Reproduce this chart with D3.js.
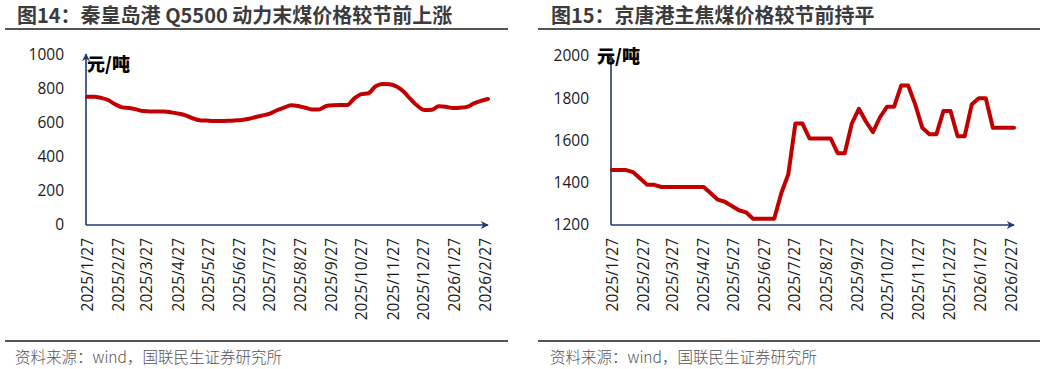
<!DOCTYPE html>
<html>
<head>
<meta charset="utf-8">
<script src="https://cdn.jsdelivr.net/npm/d3@7"></script>
<style>
  body { margin: 0; background: #fff; }
  svg { display: block; }
  .tick text { font-family: "Open Sans", "Noto Sans", sans-serif; fill: #1a1a1a; }
</style>
</head>
<body>
<div id="chart"></div>
<script>
'use strict';

// weekly observations, first Monday 2025/1/27 up to 2026/3/2
const weeks = d3.timeMonday.range(new Date(2025, 0, 27), new Date(2026, 2, 3));

// 秦皇岛港 Q5500 动力末煤 (元/吨)
const qhdPrice = [
  755, 755, 748, 735, 710, 692, 688, 680, 670, 668,
  668, 668, 662, 655, 645, 628, 616, 614, 612, 612,
  613, 615, 618, 625, 635, 645, 655, 675, 690, 704,
  700, 690, 680, 680, 700, 705, 706, 706, 745, 770,
  775, 815, 830, 828, 815, 785, 740, 700, 676, 678,
  698, 695, 688, 690, 695, 715, 730, 741
];

// 京唐港主焦煤 (元/吨)
const jtPrice = [
  1460, 1460, 1460, 1450, 1420, 1390, 1390, 1380, 1380, 1380,
  1380, 1380, 1380, 1380, 1350, 1320, 1310, 1290, 1270, 1260,
  1230, 1230, 1230, 1230, 1350, 1440, 1680, 1680, 1610, 1610,
  1610, 1610, 1540, 1540, 1680, 1750, 1690, 1640, 1710, 1760,
  1760, 1860, 1860, 1770, 1660, 1630, 1630, 1740, 1740, 1620,
  1620, 1770, 1800, 1800, 1660, 1660, 1660, 1660
];

const tickLabels = [
  '2025/1/27', '2025/2/27', '2025/3/27', '2025/4/27', '2025/5/27', '2025/6/27', '2025/7/27',
  '2025/8/27', '2025/9/27', '2025/10/27', '2025/11/27', '2025/12/27', '2026/1/27', '2026/2/27'
];

const titles = ['图14：秦皇岛港 Q5500 动力末煤价格较节前上涨', '图15：京唐港主焦煤价格较节前持平'];
const yDomains = [[0, 1000], [1200, 2000]];
const yTicks = [[0, 200, 400, 600, 800, 1000], [1200, 1400, 1600, 1800, 2000]];
const unit = '元/吨';
const source = '资料来源：wind，国联民生证券研究所';

const W = 1049, H = 369;
const axisColor = '#1f3a72';
const lineColor = '#c00000';
const parseDate = d3.timeParse('%Y/%m/%d');
const tickDates = tickLabels.map(parseDate);

const svg = d3.select('#chart').append('svg')
  .attr('width', W)
  .attr('height', H);

const defs = svg.append('defs');
defs.append('marker')
  .attr('id', 'arrow')
  .attr('viewBox', '0 0 10 10')
  .attr('refX', 9).attr('refY', 5)
  .attr('markerWidth', 8).attr('markerHeight', 8)
  .attr('markerUnits', 'userSpaceOnUse')
  .attr('orient', 'auto')
  .append('path')
  .attr('d', 'M0,0 L10,5 L0,10 L3,5 Z')
  .attr('fill', axisColor);

function drawPanel(cfg) {
  const g = svg.append('g');

  // title + rule
  g.append('text')
    .attr('x', cfg.titleX).attr('y', 23)
    .attr('font-family', '"Noto Sans CJK SC", sans-serif')
    .attr('font-weight', 'bold')
    .attr('font-size', 20)
    .attr('fill', '#3b3b3b')
    .text(cfg.title);
  g.append('line')
    .attr('x1', cfg.ruleX[0]).attr('x2', cfg.ruleX[1])
    .attr('y1', 29).attr('y2', 29)
    .attr('stroke', '#555').attr('stroke-width', 2);

  // source rule + text
  g.append('line')
    .attr('x1', cfg.ruleX[0]).attr('x2', cfg.ruleX[1])
    .attr('y1', 341).attr('y2', 341)
    .attr('stroke', '#555').attr('stroke-width', 2);
  g.append('text')
    .attr('x', cfg.sourceX).attr('y', 363)
    .attr('font-family', '"Noto Sans CJK SC", sans-serif')
    .attr('font-size', 15.5)
    .attr('font-weight', 300)
    .attr('fill', '#555')
    .text(source);

  const x = d3.scaleTime()
    .domain([tickDates[0], tickDates[tickDates.length - 1]])
    .range(cfg.xRange);
  const y = d3.scaleLinear().domain(cfg.yDomain).range([225, cfg.yTop]);

  // y labels
  g.append('g')
    .attr('transform', `translate(${cfg.xRange[0] - 1},0)`)
    .call(d3.axisLeft(y).tickValues(cfg.yTicks).tickSize(0).tickPadding(22)
      .tickFormat(d3.format('d')))
    .call(a => a.select('.domain').remove())
    .selectAll('text')
    .attr('font-size', 15.5);

  // x labels, rotated
  g.append('g')
    .attr('transform', 'translate(0,225)')
    .call(d3.axisBottom(x).tickValues(tickDates).tickSize(0)
      .tickFormat((d, i) => tickLabels[i]))
    .call(a => a.select('.domain').remove())
    .selectAll('text')
    .attr('transform', 'rotate(-90)')
    .attr('text-anchor', 'end')
    .attr('x', -13)
    .attr('y', 0)
    .attr('dy', '0.36em')
    .attr('font-size', 15.5);

  // axis lines with arrows
  const x0 = cfg.xRange[0] - 1;
  g.append('line')
    .attr('x1', x0).attr('y1', 225)
    .attr('x2', x0).attr('y2', cfg.yTop - 1)
    .attr('stroke', axisColor).attr('stroke-width', 1.6)
    .attr('marker-end', 'url(#arrow)');
  g.append('line')
    .attr('x1', x0).attr('y1', 225)
    .attr('x2', cfg.xRange[1] + 3).attr('y2', 225)
    .attr('stroke', axisColor).attr('stroke-width', 1.6)
    .attr('marker-end', 'url(#arrow)');

  // price line
  const line = d3.line()
    .x((d, i) => x(weeks[i]))
    .y(d => y(d))
    .curve(cfg.curve);
  g.append('path')
    .datum(cfg.values)
    .attr('d', line)
    .attr('fill', 'none')
    .attr('stroke', lineColor)
    .attr('stroke-width', 4)
    .attr('stroke-linejoin', 'round')
    .attr('stroke-linecap', 'round');

  // unit label
  g.append('text')
    .attr('x', cfg.unitPos[0]).attr('y', cfg.unitPos[1])
    .attr('font-family', '"Noto Sans CJK SC", sans-serif')
    .attr('font-weight', 900)
    .attr('font-size', 18)
    .attr('fill', '#000')
    .text(unit);
}

drawPanel({
  title: titles[0], titleX: 17, ruleX: [5, 508], sourceX: 15,
  xRange: [87, 485], yDomain: yDomains[0], yTicks: yTicks[0], yTop: 55,
  values: qhdPrice, curve: d3.curveMonotoneX, unitPos: [87, 71]
});

drawPanel({
  title: titles[1], titleX: 551, ruleX: [538, 1040], sourceX: 550,
  xRange: [612, 1011], yDomain: yDomains[1], yTicks: yTicks[1], yTop: 56,
  values: jtPrice, curve: d3.curveLinear, unitPos: [597, 63]
});
</script>
</body>
</html>
